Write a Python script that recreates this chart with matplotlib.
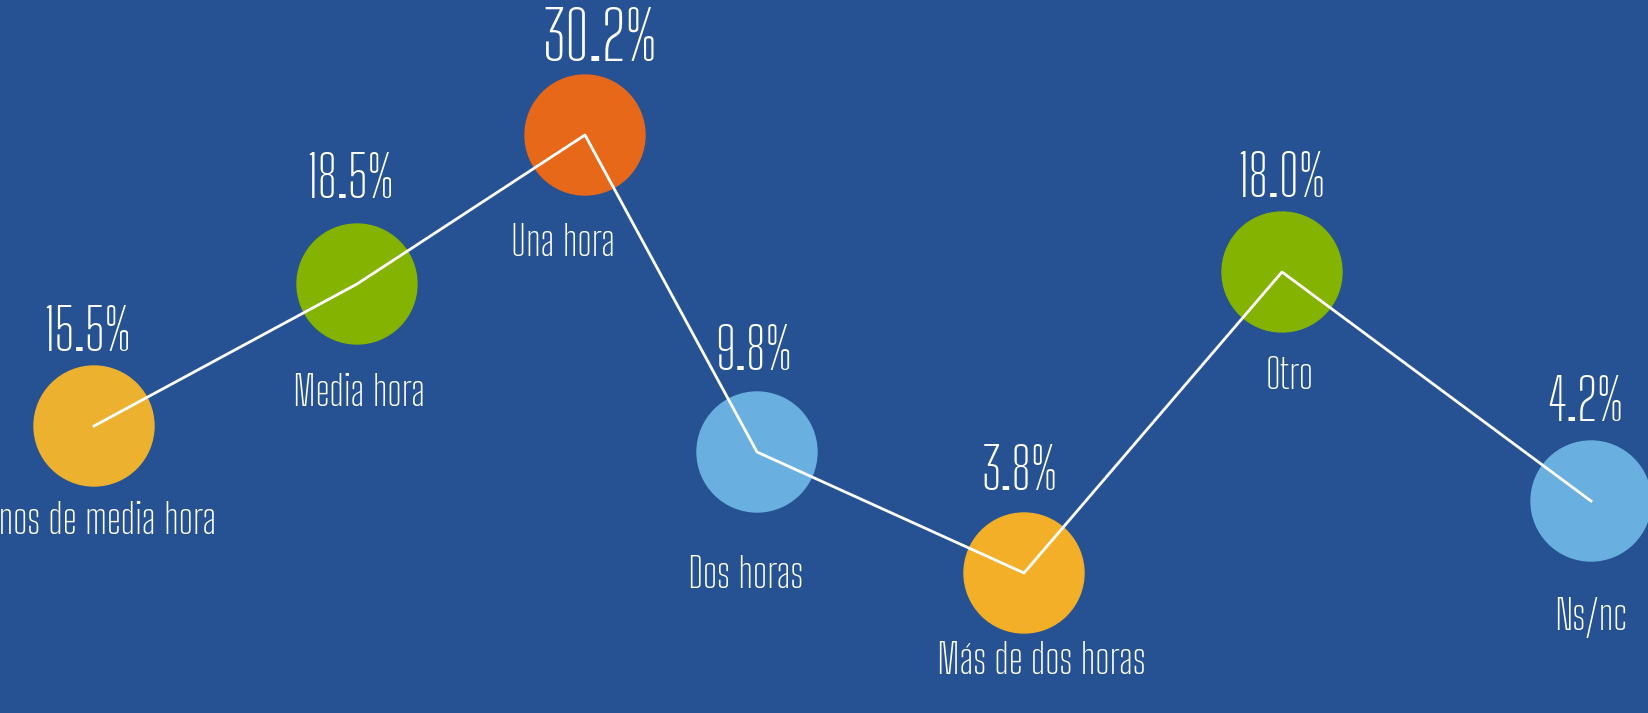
import matplotlib
matplotlib.use('Agg')
import matplotlib.pyplot as plt
from matplotlib import font_manager
from matplotlib.patches import Circle

# Data
categories = ['Menos de media hora', 'Media hora', 'Una hora', 'Dos horas',
              'Más de dos horas', 'Otro', 'Ns/nc']
values = [15.5, 18.5, 30.2, 9.8, 3.8, 18.0, 4.2]
# plotted level of each point (the line is not drawn to scale in the original)
x_pos = [94, 357, 585, 757, 1024, 1282, 1591]
levels = [287, 429, 578, 261, 140, 441, 212]

colors = ['#ECB12F', '#84B301', '#E8681A', '#69B0E0', '#F3AF27', '#84B301', '#69B0E0']
bg = '#265293'

# condensed face close to the original's Agency-style lettering
names = {f.name for f in font_manager.fontManager.ttflist}
font = 'DejaVu Sans'
for cand in ['Big Shoulders Text', 'Big Shoulders Display', 'Antonio', 'BenchNine']:
    if cand in names:
        font = cand
        break
plt.rcParams['font.family'] = [font, 'DejaVu Sans']

W, H = 1649, 713
fig = plt.figure(figsize=(W / 100, H / 100), dpi=100, facecolor=bg)
ax = fig.add_axes([0, 0, 1, 1])
ax.set_facecolor(bg)
ax.set_xlim(0, W)
ax.set_ylim(0, H)
ax.set_aspect('equal')
ax.axis('off')

for x, y, c in zip(x_pos, levels, colors):
    ax.add_patch(Circle((x, y), 60, color=c, zorder=2))

ax.plot(x_pos, levels, color='white', lw=2, zorder=3)

# label offsets in pixels (dx, dy)
cat_off = [(-5, -96), (2, -110), (-22, -109), (-11, -123), (17, -88), (8, -105), (0, -117)]
val_off = [(-7, 92), (-7, 103), (15, 94), (-3, 99), (-4, 100), (0, 92), (-5, 97)]

for i, (x, y) in enumerate(zip(x_pos, levels)):
    fs = 49 if values[i] == max(values) else 41
    ax.text(x + val_off[i][0], y + val_off[i][1], f'{values[i]:.1f}%', color='white',
            fontsize=fs, fontweight='semibold', ha='center', va='center', zorder=4)
    ax.text(x + cat_off[i][0], y + cat_off[i][1], categories[i], color='white',
            fontsize=30, fontweight='semibold', ha='center', va='center', zorder=4)

fig.savefig('out.png', dpi=100, facecolor=bg)
